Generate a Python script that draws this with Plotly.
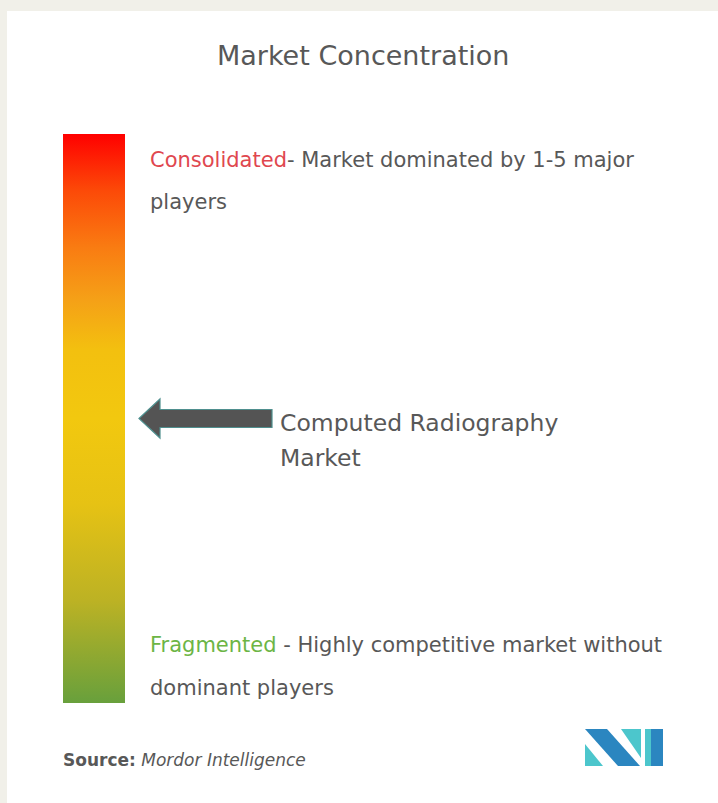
import plotly.graph_objects as go

# ---- content -------------------------------------------------------------
title_text = "Market Concentration"
market_name = ["Computed Radiography", "Market"]
market_level = 0.50          # position of the market on the concentration scale (0 = fragmented, 1 = consolidated)

top_label = "Consolidated"
top_desc = ["- Market dominated by 1-5 major", "players"]
bottom_label = "Fragmented"
bottom_desc = " - Highly competitive market without", "dominant players"

source_bold = "Source:"
source_name = "Mordor Intelligence"

# gradient stops of the concentration scale, bottom (fragmented) to top (consolidated)
scale_stops = [0.0, 0.18, 0.35, 0.5, 0.62, 0.71, 0.80, 0.90, 1.0]
scale_colors = ["#68a03c", "#bcb224", "#e6c214", "#f2c80f", "#f3c00f",
                "#f5a017", "#f97c12", "#fc4a08", "#ff0000"]

# ---- layout constants -----------------------------------------------------
W, H = 718, 803
BG = "#f1f0e9"
TEXT = "#585858"
FONT = "DejaVu Sans"

bar_left, bar_right = 63, 125
bar_top, bar_bottom = 134, 703

fig = go.Figure()

# invisible carrier trace for the gradient scale
fig.add_trace(go.Scatter(
    x=[-50], y=[-50], mode="markers", hoverinfo="skip", showlegend=False,
    marker=dict(
        color=[0.5], cmin=0, cmax=1, size=1,
        colorscale=[[s, c] for s, c in zip(scale_stops, scale_colors)],
        showscale=True,
        colorbar=dict(
            x=bar_left / W, xanchor="left",
            y=1 - (bar_top + bar_bottom) / 2 / H, yanchor="middle",
            thicknessmode="pixels", thickness=bar_right - bar_left,
            lenmode="pixels", len=bar_bottom - bar_top,
            xpad=0, ypad=0, outlinewidth=0, borderwidth=0,
            ticks="", showticklabels=False,
        ),
    ),
))

shapes = []
# white card on the beige page
shapes.append(dict(type="rect", xref="x", yref="y", x0=7, x1=W + 5, y0=11, y1=H + 5,
                   fillcolor="white", line=dict(width=0), layer="below"))

# pointer arrow at the market's level on the scale
ay = bar_bottom - market_level * (bar_bottom - bar_top)
tip_x, head_x, tail_x = 139, 160, 272
shaft_h, head_h = 9, 19.5
arrow_path = (f"M {tip_x},{ay} L {head_x},{ay - head_h} L {head_x},{ay - shaft_h} "
              f"L {tail_x},{ay - shaft_h} L {tail_x},{ay + shaft_h} L {head_x},{ay + shaft_h} "
              f"L {head_x},{ay + head_h} Z")
shapes.append(dict(type="path", xref="x", yref="y", path=arrow_path,
                   fillcolor="#545454", line=dict(color="#4f8f8e", width=1.2)))

# logo
logo_dark, logo_light = "#2b86c0", "#4cc6cc"
logo_polys = [
    ([585, 585, 603], [744, 766, 766], logo_light),
    ([585, 607, 640, 618], [729, 729, 766, 766], logo_dark),
    ([621, 641, 641], [729, 729, 758], logo_light),
    ([645, 651, 651, 645], [729, 729, 766, 766], logo_light),
    ([651, 663, 663, 651], [729, 729, 766, 766], logo_dark),
]
for xs, ys, col in logo_polys:
    p = "M " + " L ".join(f"{x},{y}" for x, y in zip(xs, ys)) + " Z"
    shapes.append(dict(type="path", xref="x", yref="y", path=p,
                       fillcolor=col, line=dict(width=0)))

annotations = []


def add_text(x, y, text, size, color=TEXT, anchor="left"):
    annotations.append(dict(x=x, y=y, xref="x", yref="y", text=text, showarrow=False,
                            xanchor=anchor, yanchor="middle",
                            font=dict(family=FONT, size=size, color=color)))


add_text(363, 55, title_text, 27, anchor="center")

add_text(148, 160, f"<span style='color:#e0474f'>{top_label}</span>{top_desc[0]}", 21)
add_text(148, 202, top_desc[1], 21)

add_text(148, 645, f"<span style='color:#6cb545'>{bottom_label}</span>{bottom_desc[0]}", 21)
add_text(148, 688, bottom_desc[1], 21)

add_text(278, ay + 4, market_name[0], 23.5)
add_text(278, ay + 39, market_name[1], 23.5)

add_text(61, 760, f"<b>{source_bold}</b> <i>{source_name}</i>", 17)

fig.update_layout(
    width=W, height=H,
    margin=dict(l=0, r=0, t=0, b=0),
    paper_bgcolor=BG, plot_bgcolor=BG,
    xaxis=dict(range=[0, W], visible=False, fixedrange=True),
    yaxis=dict(range=[H, 0], visible=False, fixedrange=True),
    shapes=shapes, annotations=annotations,
    showlegend=False,
)

fig.write_html("out.html")
